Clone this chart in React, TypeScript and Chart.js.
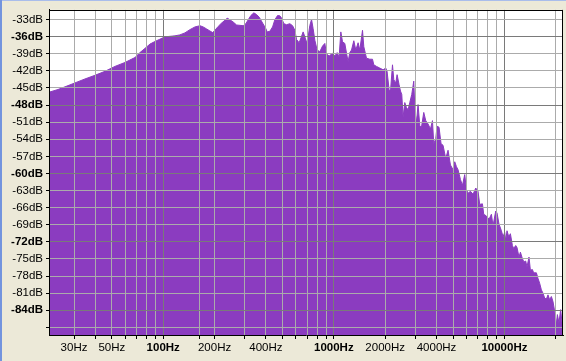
import React, { useEffect, useRef } from 'react';
import { Chart, registerables } from 'chart.js';

Chart.register(...registerables);

// Spectrum envelope: frequency (Hz) and level (dB)
const FREQ_HZ = [
  21.4, 24.16, 26.56, 30.39, 34.77, 39.8, 45.55, 52.12, 59.65, 68.29,
  73.04, 78.13, 83.58, 89.42, 95.6, 102.3, 117.1, 125.2, 134.0, 143.4,
  153.4, 164.1, 171.5, 179.6, 187.7, 194.8, 200.9, 210.0, 219.9, 233.0,
  237.1, 245.9, 257.1, 269.2, 294.2, 305.1, 314.8, 326.4, 339.8, 352.5,
  365.1, 382.2, 399.6, 406.7, 421.8, 437.4, 451.2, 468.0, 482.8, 493.9,
  509.5, 528.4, 552.4, 573.0, 591.0, 604.8, 626.3, 647.0, 661.0, 676.4,
  692.1, 707.1, 723.5, 740.3, 756.4, 774.0, 798.5, 827.9, 858.6, 885.7,
  906.2, 938.7, 982.6, 1013.7, 1045.4, 1074.0, 1099.0, 1124.6, 1160.0, 1187.0,
  1212.9, 1240.9, 1269.8, 1309.9, 1345.6, 1388.1, 1420.1, 1472.7, 1498.7, 1554.2,
  1625.1, 1685.3, 1715.1, 1779.0, 1859.9, 1944.4, 2016.5, 2052.0, 2108.6, 2148.8,
  2207.5, 2246.5, 2307.9, 2348.6, 2412.7, 2458.6, 2502.1, 2546.8, 2605.5, 2666.2,
  2724.5, 2787.3, 2863.4, 2941.6, 2994.2, 3051.3, 3117.4, 3190.0, 3263.6, 3366.7,
  3458.6, 3567.8, 3685.5, 3786.1, 3853.0, 3958.2, 4028.1, 4138.1, 4251.5, 4367.7,
  4529.6, 4672.6, 4826.8, 4998.7, 5115.1, 5233.3, 5347.8, 5524.2, 5675.0, 5853.0,
  5989.3, 6120.3, 6321.2, 6547.5, 6790.1, 7003.0, 7166.1, 7431.6, 7562.8, 7843.0,
  8124.0, 8390.2, 8573.8, 8891.4, 9048.4, 9298.8, 9602.1, 9813.4, 10039, 10176,
  10356, 10597, 10842, 11138, 11336, 11646, 11852, 12176, 12408, 12746,
  13025, 13328, 13563, 13934, 14199, 14587, 14845, 15397, 15731, 16097,
  16469, 16829, 17221, 17620, 18004, 18423, 18847, 19259, 19704, 20163,
  20438, 20881, 21367, 21745, 22050,
];

const LEVEL_DB = [
  -45.76, -45.28, -44.81, -44.12, -43.43, -42.79, -42.09, -41.23, -40.54, -39.67,
  -38.81, -38.07, -37.32, -36.86, -36.46, -36.04, -35.87, -35.7, -35.35, -34.78,
  -34.31, -34.09, -34.31, -34.66, -35.01, -35.3, -34.9, -34.21, -33.62, -33.0,
  -32.76, -33.05, -33.45, -33.97, -34.09, -33.74, -33.05, -32.31, -31.84, -32.14,
  -32.59, -33.62, -34.61, -35.18, -35.07, -34.31, -33.05, -32.31, -32.36, -32.76,
  -33.74, -33.92, -33.74, -34.09, -34.9, -36.51, -37.08, -35.94, -35.18, -36.04,
  -37.08, -36.04, -34.04, -33.0, -34.61, -36.63, -38.36, -38.64, -37.67, -37.2,
  -39.05, -39.4, -38.93, -39.4, -38.81, -39.62, -35.18, -36.91, -37.2, -38.93,
  -40.37, -38.81, -38.36, -36.73, -38.36, -37.08, -38.36, -34.9, -37.77, -39.79,
  -39.97, -39.97, -40.95, -41.23, -41.52, -41.82, -41.52, -42.09, -45.28, -45.55,
  -40.95, -43.55, -44.12, -42.68, -44.41, -45.55, -46.14, -50.17, -47.57, -48.44,
  -48.84, -47.57, -46.14, -43.82, -49.3, -51.03, -47.92, -51.6, -51.9, -49.3,
  -50.74, -51.33, -52.19, -50.74, -54.78, -53.92, -51.72, -51.9, -54.78, -55.06,
  -57.38, -55.93, -58.52, -59.33, -57.95, -58.81, -59.33, -61.06, -62.1, -60.2,
  -62.79, -63.48, -63.13, -63.65, -62.56, -63.13, -65.43, -65.33, -67.16, -67.46,
  -68.03, -67.16, -69.19, -66.59, -66.94, -68.89, -70.05, -71.09, -70.34, -71.78,
  -70.05, -71.09, -70.57, -72.64, -73.16, -72.64, -72.99, -74.67, -73.8, -74.94,
  -75.53, -75.36, -76.4, -74.67, -76.97, -76.85, -77.43, -77.43, -78.4, -79.27,
  -80.42, -80.99, -81.86, -82.03, -81.29, -82.15, -81.58, -82.45, -84.18, -86.48,
  -84.75, -86.18, -83.88, -86.08, -85.96,
];

const X_GRID_HZ = [
  30, 40, 50, 60, 70, 80, 90, 100, 162.5, 200, 300, 400, 500, 600, 700, 800, 900,
  1000, 2000, 3000, 4000, 5000, 6000, 7000, 8000, 9000, 10000, 20000,
];
const X_LABELED_HZ = [30, 50, 100, 200, 400, 1000, 2000, 4000, 10000];
const X_MAJOR_HZ = [100, 1000, 10000];

const Y_TICKS_DB = [
  -33, -36, -39, -42, -45, -48, -51, -54, -57, -60, -63, -66, -69, -72, -75, -78, -81, -84, -87,
];
const Y_UNLABELED_DB = [-87];
const Y_MAJOR_DB = [-36, -48, -60, -72, -84];

const X_MIN = 21.4;
const X_MAX = 22050;
const Y_MIN = -88.33;
const Y_MAX = -31.32;

const FILL = '#8B3CC0';
const GRID_MINOR = '#ABABAB';
const GRID_MAJOR = '#7A7A7A';
const FONT_FAMILY = '"Liberation Sans", Arial, sans-serif';

const plotFrame = {
  id: 'plotFrame',
  beforeDraw(chart: any) {
    const { ctx, chartArea } = chart;
    ctx.save();
    ctx.fillStyle = '#FFFFFF';
    ctx.fillRect(chartArea.left, chartArea.top, chartArea.right - chartArea.left, chartArea.bottom - chartArea.top);
    ctx.restore();
  },
  afterDraw(chart: any) {
    const { ctx, chartArea } = chart;
    ctx.save();
    ctx.strokeStyle = '#000000';
    ctx.lineWidth = 1;
    ctx.beginPath();
    ctx.moveTo(chartArea.left, Math.round(chartArea.top) + 0.5);
    ctx.lineTo(chartArea.right, Math.round(chartArea.top) + 0.5);
    ctx.moveTo(Math.round(chartArea.right) - 0.5, chartArea.top);
    ctx.lineTo(Math.round(chartArea.right) - 0.5, chartArea.bottom);
    ctx.stroke();
    ctx.restore();
  },
};

export default function App() {
  const canvasRef = useRef<HTMLCanvasElement | null>(null);

  useEffect(() => {
    if (!canvasRef.current) return;
    const chart = new Chart(canvasRef.current, {
      type: 'line',
      data: {
        datasets: [
          {
            data: FREQ_HZ.map((f, i) => ({ x: f, y: LEVEL_DB[i] })),
            borderColor: FILL,
            backgroundColor: FILL,
            borderWidth: 1,
            pointRadius: 0,
            tension: 0,
            fill: 'start',
          },
        ],
      },
      options: {
        animation: false,
        responsive: false,
        maintainAspectRatio: false,
        layout: { padding: { top: 6, right: 3, left: 0, bottom: 0 } },
        plugins: {
          legend: { display: false },
          tooltip: { enabled: false },
        },
        scales: {
          x: {
            type: 'logarithmic',
            min: X_MIN,
            max: X_MAX,
            afterBuildTicks: (scale: any) => {
              scale.ticks = X_GRID_HZ.map((v) => ({ value: v }));
            },
            afterFit: (scale: any) => {
              scale.height = 26;
            },
            grid: {
              z: 1,
              color: (c: any) => (c.tick && X_MAJOR_HZ.includes(c.tick.value) ? GRID_MAJOR : GRID_MINOR),
              tickColor: '#000000',
              tickLength: 4,
              lineWidth: 1,
            },
            border: { display: true, color: '#000000', width: 1, z: 2 },
            ticks: {
              z: 2,
              autoSkip: false,
              maxRotation: 0,
              minRotation: 0,
              padding: 2,
              color: '#000000',
              font: (c: any) => ({
                family: FONT_FAMILY,
                size: 11.5,
                weight: c.tick && X_MAJOR_HZ.includes(c.tick.value) ? 'bold' : 'normal',
              }),
              callback: (v: any) => (X_LABELED_HZ.includes(Number(v)) ? `${v}Hz` : ''),
            },
          },
          y: {
            type: 'linear',
            min: Y_MIN,
            max: Y_MAX,
            afterBuildTicks: (scale: any) => {
              scale.ticks = Y_TICKS_DB.map((v) => ({ value: v }));
            },
            afterFit: (scale: any) => {
              scale.width = 49;
            },
            grid: {
              z: 1,
              color: (c: any) => (c.tick && Y_MAJOR_DB.includes(c.tick.value) ? GRID_MAJOR : GRID_MINOR),
              tickColor: '#000000',
              tickLength: 3,
              lineWidth: 1,
            },
            border: { display: true, color: '#000000', width: 1, z: 2 },
            ticks: {
              z: 2,
              autoSkip: false,
              padding: 3,
              color: '#000000',
              font: (c: any) => ({
                family: FONT_FAMILY,
                size: 11.5,
                weight: c.tick && Y_MAJOR_DB.includes(c.tick.value) ? 'bold' : 'normal',
              }),
              callback: (v: any) => (Y_UNLABELED_DB.includes(Number(v)) ? '' : `${v}dB`),
            },
          },
        },
      },
      plugins: [plotFrame],
    } as any);
    return () => chart.destroy();
  }, []);

  return (
    <div
      style={{
        position: 'absolute',
        left: 0,
        top: 0,
        width: 566,
        height: 361,
        background: '#ECE9D8',
        overflow: 'hidden',
      }}
    >
      <div style={{ position: 'absolute', left: 0, top: 0, width: 566, height: 1, background: '#A9BDEB' }} />
      <div style={{ position: 'absolute', left: 0, top: 0, width: 2, height: 361, background: '#7394DE' }} />
      <canvas
        ref={canvasRef}
        width={566}
        height={361}
        style={{ position: 'absolute', left: 0, top: 0, width: 566, height: 361 }}
      />
    </div>
  );
}
